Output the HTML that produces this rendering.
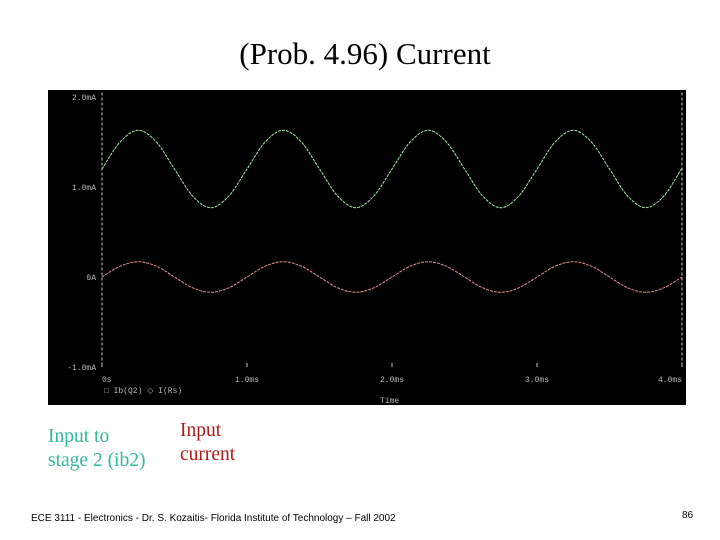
<!DOCTYPE html>
<html><head><meta charset="utf-8"><style>
body{margin:0;width:720px;height:540px;background:#fff;position:relative;overflow:hidden;font-family:"Liberation Serif",serif}
.t{position:absolute;white-space:nowrap}
</style></head><body>
<div class="t" style="left:0;width:730px;text-align:center;top:36px;font-size:31px;color:#000">(Prob. 4.96) Current</div>
<svg style="position:absolute;left:48px;top:90px" width="638" height="315" viewBox="48 90 638 315">
<rect x="48" y="90" width="638" height="315" fill="#000"/>
<g id="axes" font-family="Liberation Mono, monospace" font-size="8" fill="#bbb"></g>
<g id="series"></g>
</svg>
<div class="t" style="left:48px;top:425px;font-size:19.5px;line-height:24px;color:#33b89a">Input to<br>stage 2 (ib2)</div>
<div class="t" style="left:180px;top:419px;font-size:19.5px;line-height:24px;color:#b01818">Input<br>current</div>
<div class="t" style="left:31px;top:513px;font-family:'Liberation Sans',sans-serif;font-size:10px;color:#000">ECE 3111 - Electronics - Dr. S. Kozaitis- Florida Institute of Technology – Fall 2002</div>
<div class="t" style="left:682px;top:510px;font-family:'Liberation Sans',sans-serif;font-size:10px;color:#000">86</div>
<script>
const times=[0,0.125,0.25,0.375,0.5,0.625,0.75,0.875,1,1.125,1.25,1.375,1.5,1.625,1.75,1.875,2,2.125,2.25,2.375,2.5,2.625,2.75,2.875,3,3.125,3.25,3.375,3.5,3.625,3.75,3.875,4];
const ib2=[1.2,1.5,1.63,1.5,1.2,0.9,0.77,0.9,1.2,1.5,1.63,1.5,1.2,0.9,0.77,0.9,1.2,1.5,1.63,1.5,1.2,0.9,0.77,0.9,1.2,1.5,1.63,1.5,1.2,0.9,0.77,0.9,1.21];
const iRs=[0,0.12,0.17,0.12,0,-0.12,-0.17,-0.12,0,0.12,0.17,0.12,0,-0.12,-0.17,-0.12,0,0.12,0.17,0.12,0,-0.12,-0.17,-0.12,0,0.12,0.17,0.12,0,-0.12,-0.17,-0.12,0];
const xTicks=[0,1,2,3,4];
const xTickLabels=["0s","1.0ms","2.0ms","3.0ms","4.0ms"];
const yTicks=[2,1,0,-1];
const yTickLabels=["2.0mA","1.0mA","0A","-1.0mA"];
const NS="http://www.w3.org/2000/svg";
const X=t=>102+t*145, Y=v=>277-v*90;
const ax=document.getElementById('axes'), sg=document.getElementById('series');
function mk(tag,attrs,parent){const e=document.createElementNS(NS,tag);for(const k in attrs)e.setAttribute(k,attrs[k]);parent.appendChild(e);return e;}
let l=mk('line',{x1:X(0),x2:X(0),y1:Y(2.05),y2:Y(-1),stroke:'#ccc','stroke-dasharray':'3,2'},ax);


l=mk('line',{x1:X(4),x2:X(4),y1:Y(2.05),y2:Y(-1),stroke:'#ccc','stroke-dasharray':'3,2'},ax);


yTicks.forEach((v,i)=>{const t=mk('text',{x:X(0)-6,y:Y(v)+3,'text-anchor':'end'},ax);t.textContent=yTickLabels[i];

});
xTicks.forEach((v,i)=>{const tk=mk('line',{x1:X(v),x2:X(v),y1:Y(-1)-4,y2:Y(-1),stroke:'#ccc'},ax);


const t=mk('text',{x:X(v),y:Y(-1)+15,'text-anchor':i==0?'start':(i==4?'end':'middle')},ax);t.textContent=xTickLabels[i];

});
let tt=mk('text',{x:380,y:403},ax);tt.textContent='Time';


let lg=mk('text',{x:104,y:393},ax);lg.textContent='□ Ib(Q2)  ◇ I(Rs)';


function path(vals,color,name){const p=times.map((t,i)=>[X(t),Y(vals[i])]);let d='M'+p[0];
for(let i=0;i<p.length-1;i++){const p0=p[Math.max(0,i-1)],p1=p[i],p2=p[i+1],p3=p[Math.min(p.length-1,i+2)];
d+=` C${p1[0]+(p2[0]-p0[0])/6},${p1[1]+(p2[1]-p0[1])/6} ${p2[0]-(p3[0]-p1[0])/6},${p2[1]-(p3[1]-p1[1])/6} ${p2[0]},${p2[1]}`;}
const e=mk('path',{d:d,fill:'none',stroke:color,'stroke-width':1,'stroke-dasharray':'3,1'},sg);

}
path(ib2,'#a8e8a8','series-ib2');
path(iRs,'#e89090','series-irs');
</script>
</body></html>
